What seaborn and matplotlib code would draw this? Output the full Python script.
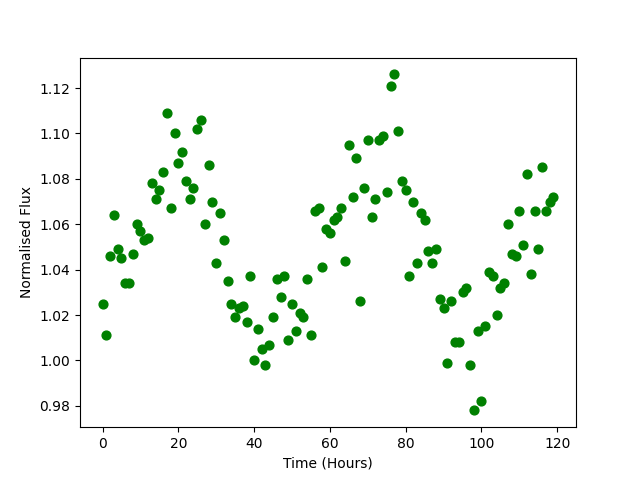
import matplotlib
matplotlib.use("Agg")
import matplotlib.pyplot as plt
import seaborn as sns

hours = list(range(120))
flux = [
    1.025, 1.011, 1.046, 1.064, 1.049, 1.045, 1.034, 1.034, 1.047, 1.060,
    1.057, 1.053, 1.054, 1.078, 1.071, 1.075, 1.083, 1.109, 1.067, 1.100,
    1.087, 1.092, 1.079, 1.071, 1.076, 1.102, 1.106, 1.060, 1.086, 1.070,
    1.043, 1.065, 1.053, 1.035, 1.025, 1.019, 1.023, 1.024, 1.017, 1.037,
    1.000, 1.014, 1.005, 0.998, 1.007, 1.019, 1.036, 1.028, 1.037, 1.009,
    1.025, 1.013, 1.021, 1.019, 1.036, 1.011, 1.066, 1.067, 1.041, 1.058,
    1.056, 1.062, 1.063, 1.067, 1.044, 1.095, 1.072, 1.089, 1.026, 1.076,
    1.097, 1.063, 1.071, 1.097, 1.099, 1.074, 1.121, 1.126, 1.101, 1.079,
    1.075, 1.037, 1.070, 1.043, 1.065, 1.062, 1.048, 1.043, 1.049, 1.027,
    1.023, 0.999, 1.026, 1.008, 1.008, 1.030, 1.032, 0.998, 0.978, 1.013,
    0.982, 1.015, 1.039, 1.037, 1.020, 1.032, 1.034, 1.060, 1.047, 1.046,
    1.066, 1.051, 1.082, 1.038, 1.066, 1.049, 1.085, 1.066, 1.070, 1.072,
]

fig = plt.figure(figsize=(6.4, 4.8), dpi=100)
ax = sns.scatterplot(x=hours, y=flux, color='green', edgecolor='green',
                     s=40, linewidth=1)
ax.set_xlabel('Time (Hours)')
ax.set_ylabel('Normalised Flux')
plt.savefig('out.png')
